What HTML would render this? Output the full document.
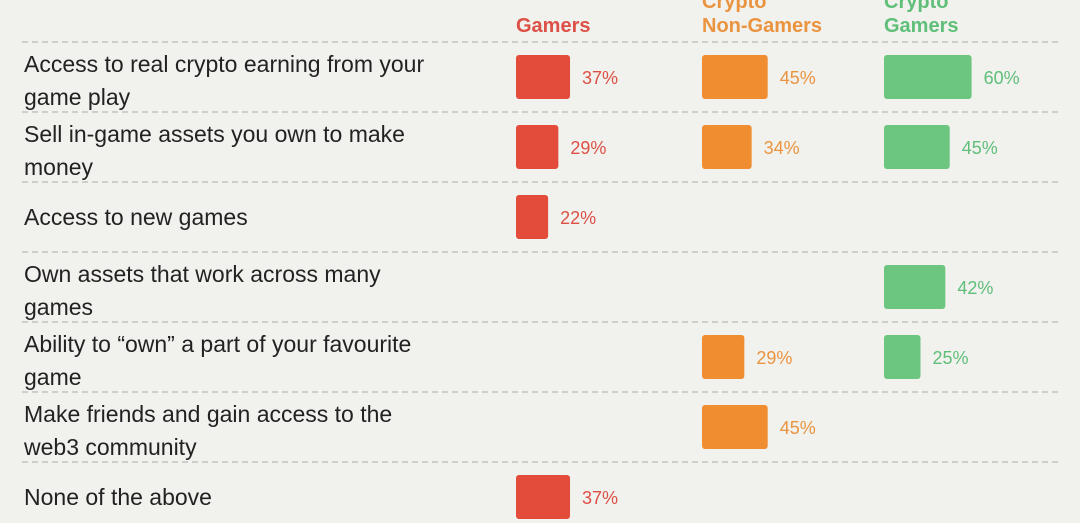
<!DOCTYPE html>
<html><head><meta charset="utf-8"><style>
body{margin:0;background:#f1f1ee;}
svg{display:block;font-family:"Liberation Sans",sans-serif;}
</style></head><body>
<svg id="chart" width="1080" height="523" viewBox="0 0 1080 523">
<rect width="1080" height="523" fill="#f1f1ee"/>
<g id="hdr"></g>
<g id="rows"></g>
</svg>
<script>
const categories=[["Access to real crypto earning  from your","game play"],["Sell in-game assets you own to make","money"],["Access to new games"],["Own assets that work across many","games"],["Ability to “own” a part of your favourite","game"],["Make friends and gain access to the","web3 community"],["None of the above"]];
const seriesNames=[["Gamers"],["Crypto","Non-Gamers"],["Crypto","Gamers"]];
const gamers=[37,29,22,null,null,null,37];
const nonGamers=[45,34,null,null,29,45,null];
const cryptoGamers=[60,45,null,42,25,null,null];
const series=[gamers,nonGamers,cryptoGamers];
const colX=[516,702,884], fills=["#e34c3a","#f18d31","#6cc67f"], tcols=["#dc5046","#ea9440","#5fbf79"];
const rowTop=42,rowH=70,scale=1.46;
const y=i=>rowTop+i*rowH;
const w=v=>v*scale;
const ns="http://www.w3.org/2000/svg";
function mk(t,a,p){const e=document.createElementNS(ns,t);for(const k in a)e.setAttribute(k,a[k]);p.appendChild(e);return e;}
const hdr=document.getElementById('hdr'),rows=document.getElementById('rows');
seriesNames.forEach((n,s)=>{n.forEach((line,j)=>{const t=mk('text',{x:colX[s],y:32-(n.length-1-j)*24,fill:tcols[s],'font-size':20,'font-weight':'bold'},hdr);t.textContent=line;

});});
for(let i=0;i<=categories.length-1;i++){const l=mk('line',{x1:22,x2:1062,y1:y(i),y2:y(i),stroke:'#b9b9b5','stroke-width':1.2,'stroke-dasharray':'6 4'},rows);

}
categories.forEach((c,i)=>{const cy=y(i)+rowH/2;
const t=mk('text',{x:24,fill:'#222','font-size':23},rows);


c.forEach((line,j)=>{const ts=mk('tspan',{x:24,y:c.length==1?cy+8:cy-5+j*33},t);ts.textContent=line;});
series.forEach((arr,s)=>{const v=arr[i];if(v==null)return;
const r=mk('rect',{x:colX[s],y:cy-22,width:w(v),height:44,rx:3,fill:fills[s]},rows);


const vt=mk('text',{x:colX[s]+w(v)+12,y:cy+7,fill:tcols[s],'font-size':18},rows);vt.textContent=v+'%';

});});
</script>
</body></html>
